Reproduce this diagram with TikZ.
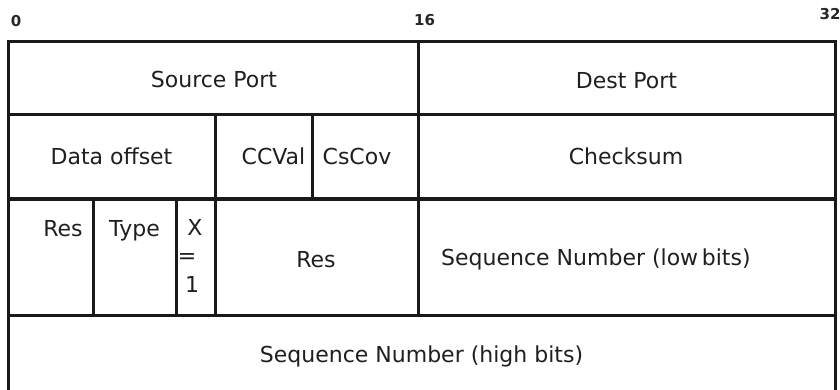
\documentclass[tikz,border=0pt]{standalone}
\usepackage{fontspec}
\setmainfont{DejaVu Sans}
\begin{document}
\begin{tikzpicture}[x=1pt,y=-1pt,
  grid/.style={line width=3pt,draw=black!90},
  lbl/.style={inner sep=0pt,anchor=base,text=black!88,font=\fontsize{22}{28.5}\selectfont},
  bitnum/.style={inner sep=0pt,anchor=base,text=black!85,font=\fontsize{15}{17}\selectfont\bfseries}]
\useasboundingbox (0,0) rectangle (840,390);
% frame and cells
\draw[grid] (8,396) -- (8,42) -- (835,42) -- (835,396);
\draw[grid] (8,115) -- (835,115);
\draw[grid] (8,199) -- (835,199);
\draw[grid] (8,315) -- (835,315);
\draw[grid] (8,396) -- (835,396);
\draw[grid] (418,42) -- (418,315);
\draw[grid] (215,115) -- (215,315);
\draw[grid] (312,115) -- (312,199);
\draw[grid] (93,199) -- (93,315);
\draw[grid] (176,199) -- (176,315);
% bit numbers
\node[bitnum] (b0) at (16,27) {0};
\node[bitnum] (b16) at (424.5,26) {16};
\node[bitnum] (b32) at (830,20) {32};
% labels
\node[lbl] (srcport) at (214,88) {Source Port};
\node[lbl] (dstport) at (626.5,89) {Dest Port};
\node[lbl] (doff) at (111.5,165) {Data offset};
\node[lbl] (ccval) at (273.5,165) {CCVal};
\node[lbl] (cscov) at (357,165) {CsCov};
\node[lbl] (cksum) at (626,165) {Checksum};
\node[lbl] (res1) at (63,236) {Res};
\node[lbl] (type) at (134.5,236) {Type};
\node[lbl,align=center] (x1) at (195,292) {X\\\hspace*{-16pt}=\\\hspace*{-6pt}1};
\node[lbl] (res2) at (316,267) {Res};
\node[lbl,anchor=base west] (seqlow) at (441,265) {Sequence Number (low\,bits)};
\node[lbl] (seqhigh) at (421.5,362) {Sequence Number (high bits)};
\end{tikzpicture}
\end{document}
